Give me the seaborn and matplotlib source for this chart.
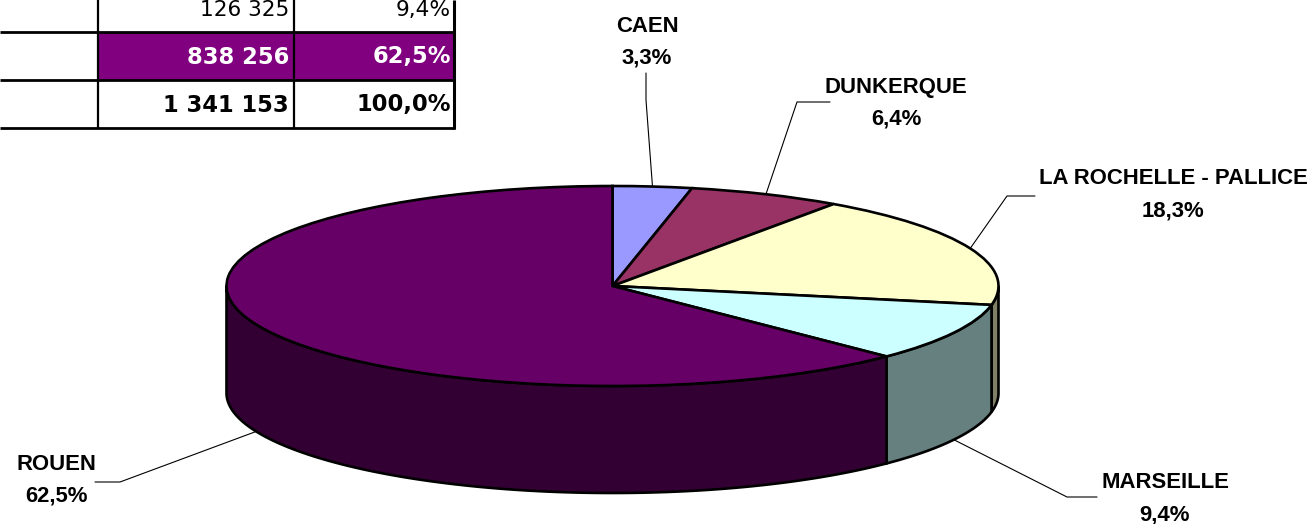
import matplotlib
matplotlib.use('Agg')
import matplotlib.pyplot as plt
import seaborn as sns
import numpy as np

# data
ports = ['CAEN', 'DUNKERQUE', 'LA ROCHELLE - PALLICE', 'MARSEILLE', 'ROUEN']
shares = [3.3, 6.4, 18.3, 9.4, 62.5]
share_labels = ['3,3%', '6,4%', '18,3%', '9,4%', '62,5%']
top_colors = ['#9999FF', '#993366', '#FFFFCC', '#CCFFFF', '#660066']
side_colors = ['#4D4D80', '#4D1A33', '#808066', '#668080', '#330033']

table_tonnes = ['126 325', '838 256', '1 341 153']
table_pct = ['9,4%', '62,5%', '100,0%']

# pie geometry in pixels of the reference
cx, cy = 612.5, 286
rx, ry = 386, 100
depth = 107

sns.set_theme(style='white')
plt.rcParams['font.family'] = ['Liberation Sans', 'DejaVu Sans']

fig = plt.figure(figsize=(13.13, 5.24), dpi=100, facecolor='white')
# pie axes: one data unit is rx pixels across and ry pixels down
ax = fig.add_axes([0, 0, 1, 1])
ax.pie(shares, colors=top_colors, startangle=90, counterclock=False, radius=1,
       wedgeprops={'edgecolor': 'black', 'linewidth': 1.9, 'zorder': 3})
ax.set_aspect('auto')
ax.set_xlim(-cx / rx, (1313 - cx) / rx)
ax.set_ylim((cy - 524) / ry, cy / ry)
ax.axis('off')

# slice limits as clockwise angles from the top
edges = np.concatenate([[0], np.cumsum(shares)]) / np.sum(shares) * 2 * np.pi

# side wall, only the front half of the drum shows
for i in range(len(shares)):
    start = max(edges[i], np.pi / 2)
    end = min(edges[i + 1], 3 * np.pi / 2)
    if end <= start:
        continue
    t = np.linspace(start, end, 200)
    xs = np.sin(t)
    ys = np.cos(t)
    ax.fill(np.concatenate([xs, xs[::-1]]),
            np.concatenate([ys, ys[::-1] - depth / ry]),
            facecolor=side_colors[i], edgecolor='black', linewidth=1.9, zorder=2)

# overlay in pixel coordinates for the table and the labels
over = fig.add_axes([0, 0, 1, 1], facecolor='none')
over.set_xlim(0, 1313)
over.set_ylim(524, 0)
over.axis('off')

# leader lines go from the middle of each slice to an elbow by the label
elbows = [[(646, 73), (646, 100)],
          [(830, 102), (797, 102)],
          [(1035, 196), (1007, 196)],
          [(1097, 497), (1067, 497)],
          [(95, 482), (120, 482)]]
label_pos = [(647, 26), (896, 87), (1173, 179), (1165, 483), (56, 464)]
for i, port in enumerate(ports):
    mid = (edges[i] + edges[i + 1]) / 2
    ax_x = cx + rx * np.sin(mid)
    ax_y = cy - ry * np.cos(mid)
    if np.cos(mid) < 0:
        ax_y += depth
    pts = elbows[i] + [(ax_x, ax_y)]
    over.plot([p[0] for p in pts], [p[1] for p in pts], color='black', lw=0.8, zorder=1)
    lx, ly = label_pos[i]
    over.text(lx, ly, port, ha='center', va='center', fontsize=15.9, fontweight='bold', color='black')
    over.text(lx, ly + 32, share_labels[i], ha='center', va='center', fontsize=15.9, fontweight='bold', color='black')

# table fragment, clipped by the top and left of the picture
over.fill_between([98, 454], 32, 80, color='#800080', lw=0)
for y in [32, 80, 128]:
    over.plot([0, 455], [y, y], color='black', lw=2.0, solid_capstyle='butt')
for x in [98, 294, 454]:
    over.plot([x, x], [0, 129], color='black', lw=1.6 if x != 454 else 2.2, solid_capstyle='butt')

row_y = [10, 57, 105]
row_style = [('normal', 'black', 15.6), ('bold', 'white', 16.3), ('bold', 'black', 16.3)]
for y, a, b, (weight, col, size) in zip(row_y, table_tonnes, table_pct, row_style):
    over.text(289, y, a, ha='right', va='center', fontsize=size, fontweight=weight, color=col,
              family=['DejaVu Sans'])
    over.text(451, y, b, ha='right', va='center', fontsize=size, fontweight=weight, color=col,
              family=['DejaVu Sans'])

fig.savefig('out.png', dpi=100, facecolor='white')
